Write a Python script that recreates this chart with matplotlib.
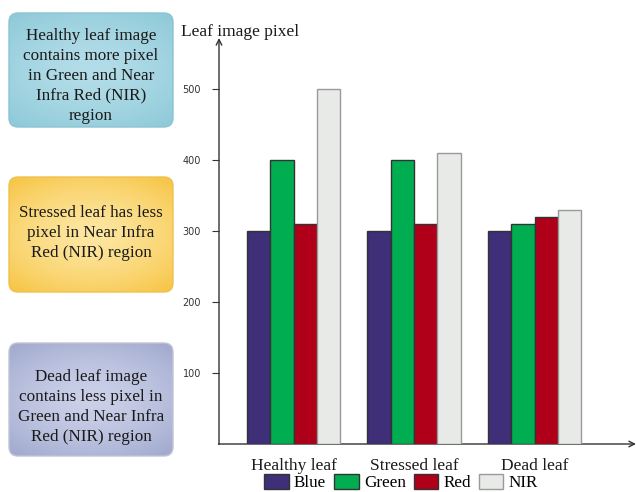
import numpy as np
import matplotlib
matplotlib.use("Agg")
import matplotlib.pyplot as plt
from matplotlib.patches import FancyBboxPatch, Patch
from matplotlib.colors import to_rgb

categories = ["Healthy leaf", "Stressed leaf", "Dead leaf"]
series_names = ["Blue", "Green", "Red", "NIR"]
blue_vals = [300, 300, 300]
green_vals = [400, 400, 310]
red_vals = [310, 310, 320]
nir_vals = [500, 410, 330]
yticks = [100, 200, 300, 400, 500]
notes = [
    "Healthy leaf image\ncontains more pixel\nin Green and Near\nInfra Red (NIR)\nregion",
    "Stressed leaf has less\npixel in Near Infra\nRed (NIR) region",
    "Dead leaf image\ncontains less pixel in\nGreen and Near Infra\nRed (NIR) region",
]

W, H = 636, 492
fig = plt.figure(figsize=(W / 100, H / 100), dpi=100)
serif = "Liberation Serif"

# overlay axes in pixel coords
ov = fig.add_axes([0, 0, 1, 1])
ov.set_xlim(0, W)
ov.set_ylim(H, 0)
ov.axis("off")

def grad_box(x0, y0, x1, y1, c_center, c_edge, edge):
    patch = FancyBboxPatch((x0, y0), x1 - x0, y1 - y0,
                           boxstyle="round,pad=0,rounding_size=9",
                           facecolor="none", edgecolor=edge, linewidth=1.0, zorder=2)
    ov.add_patch(patch)
    ny, nx = 100, 160
    yy, xx = np.mgrid[-1:1:ny * 1j, -1:1:nx * 1j]
    r = np.clip(np.sqrt((xx * 0.85) ** 2 + yy ** 2) / 1.25, 0, 1) ** 1.5
    cc = np.array(to_rgb(c_center)); ce = np.array(to_rgb(c_edge))
    img = cc[None, None, :] * (1 - r[..., None]) + ce[None, None, :] * r[..., None]
    im = ov.imshow(img, extent=(x0, x1, y1, y0), zorder=1, interpolation="bilinear")
    im.set_clip_path(patch)

grad_box(9, 13, 173, 127, "#b3dde8", "#8fcad9", "#8cc4d2")
grad_box(9, 177, 173, 292, "#fde6a0", "#f7c648", "#f0c050")
grad_box(9, 343, 173, 456, "#ccd1e9", "#a2abcf", "#c0c4d8")
ov.set_xlim(0, W)
ov.set_ylim(H, 0)

for (cy, txt) in zip([76, 233, 407], notes):
    ov.text(91, cy, txt, ha="center", va="center", fontsize=12.3,
            family=serif, color="#1a1a1a", linespacing=1.32, zorder=3)

# main axes
ax_left, ax_right, ax_bottom, ax_top = 219, 632, 444, 45
ax = fig.add_axes([ax_left / W, 1 - ax_bottom / H, (ax_right - ax_left) / W,
                   (ax_bottom - ax_top) / H])
ax.patch.set_alpha(0)
px_per_unit = 0.71
ax.set_ylim(0, (ax_bottom - ax_top) / px_per_unit)
group_px = 120.5
bar_w = 23.3 / group_px
ax.set_xlim((ax_left - 293.5) / group_px, (ax_right - 293.5) / group_px)

x = np.arange(len(categories))
vals = [blue_vals, green_vals, red_vals, nir_vals]
colors = ["#3f2e78", "#00ad50", "#b00019", "#e7eae7"]
edges = ["#333333", "#333333", "#333333", "#9a9a9a"]
handles = []
for i, (v, c, e, n) in enumerate(zip(vals, colors, edges, series_names)):
    ax.bar(x + (i - 1.5) * bar_w, v, width=bar_w, color=c, edgecolor=e,
           linewidth=1.0, zorder=2)
    handles.append(Patch(facecolor=c, edgecolor=e, linewidth=1.0, label=n))

for s in ["top", "right", "left", "bottom"]:
    ax.spines[s].set_visible(False)

# axis arrows
ov.annotate("", xy=(ax_left, 38), xytext=(ax_left, ax_bottom + 0.5),
            arrowprops=dict(arrowstyle="->", color="#333333", lw=1.0,
                            shrinkA=0, shrinkB=0, mutation_scale=10), zorder=5)
ov.annotate("", xy=(636, ax_bottom), xytext=(ax_left - 0.5, ax_bottom),
            arrowprops=dict(arrowstyle="->", color="#333333", lw=1.0,
                            shrinkA=0, shrinkB=0, mutation_scale=10), zorder=5)

ax.set_yticks(yticks)
ax.set_yticklabels([str(t) for t in yticks], fontsize=7, color="#333333",
                   family="DejaVu Sans")
ax.tick_params(axis="y", length=5, width=0.8, color="#333333", pad=8)
ax.set_xticks(x)
ax.set_xticklabels(categories, fontsize=12.5, family=serif, color="#1a1a1a")
ax.tick_params(axis="x", length=0, pad=10)

ov.text(181, 32, "Leaf image pixel", ha="left", va="center", fontsize=12.5,
        family=serif, color="#1a1a1a")

leg = fig.legend(handles=handles, loc="center", bbox_to_anchor=(401 / W, 1 - 482.5 / H),
                 ncol=4, frameon=False, prop={"family": serif, "size": 12.3},
                 handlelength=1.45, handleheight=0.95, handletextpad=0.3,
                 columnspacing=0.45, borderpad=0)

fig.savefig("out.png", dpi=100)
